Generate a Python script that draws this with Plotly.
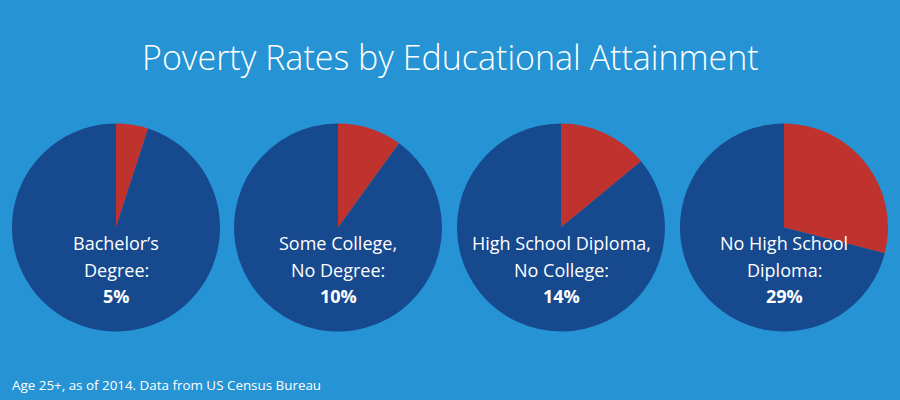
import plotly.graph_objects as go

# Data
label_line1 = ["Bachelor’s", "Some College,", "High School Diploma,", "No High School"]
label_line2 = ["Degree:", "No Degree:", "No College:", "Diploma:"]
poverty_rates = [5, 10, 14, 29]
pct_labels = ["5%", "10%", "14%", "29%"]

BG = "#2593d4"
DARK = "#17498f"
RED = "#bf322e"
W, H = 900, 400

centers_x = [116, 338, 561, 784]
center_y = 227.5
radius = 104

fig = go.Figure()
for i, rate in enumerate(poverty_rates):
    cx = centers_x[i]
    x0 = (cx - radius) / W
    x1 = (cx + radius) / W
    y0 = 1 - (center_y + radius) / H
    y1 = 1 - (center_y - radius) / H
    fig.add_trace(go.Pie(
        values=[rate, 100 - rate],
        labels=["In poverty", "Not in poverty"],
        sort=False,
        direction="clockwise",
        rotation=0,
        marker=dict(colors=[RED, DARK], line=dict(width=0)),
        textinfo="none",
        hoverinfo="label+percent",
        showlegend=False,
        domain=dict(x=[x0, x1], y=[y0, y1]),
    ))
    for text, ypix in ((label_line1[i], 243), (label_line2[i], 270),
                       ("<b>" + pct_labels[i] + "</b>", 296)):
        fig.add_annotation(x=cx / W, y=1 - ypix / H, xref="paper", yref="paper",
                           xanchor="center", yanchor="middle",
                           text=text, showarrow=False,
                           font=dict(family="Open Sans", size=18, color="white"))

fig.add_annotation(x=451 / W, y=1 - 57 / H, xref="paper", yref="paper",
                   xanchor="center", yanchor="middle",
                   text="Poverty Rates by Educational Attainment", showarrow=False,
                   font=dict(family="Open Sans", size=34, color="white", weight=300))
fig.add_annotation(x=10 / W, y=1 - 385 / H, xref="paper", yref="paper",
                   xanchor="left", yanchor="middle",
                   text="Age 25+, as of 2014. Data from US Census Bureau", showarrow=False,
                   font=dict(family="Open Sans", size=13.4, color="white"))

fig.update_layout(
    width=W, height=H,
    margin=dict(l=0, r=0, t=0, b=0),
    paper_bgcolor=BG, plot_bgcolor=BG,
)
fig.write_html("out.html")
